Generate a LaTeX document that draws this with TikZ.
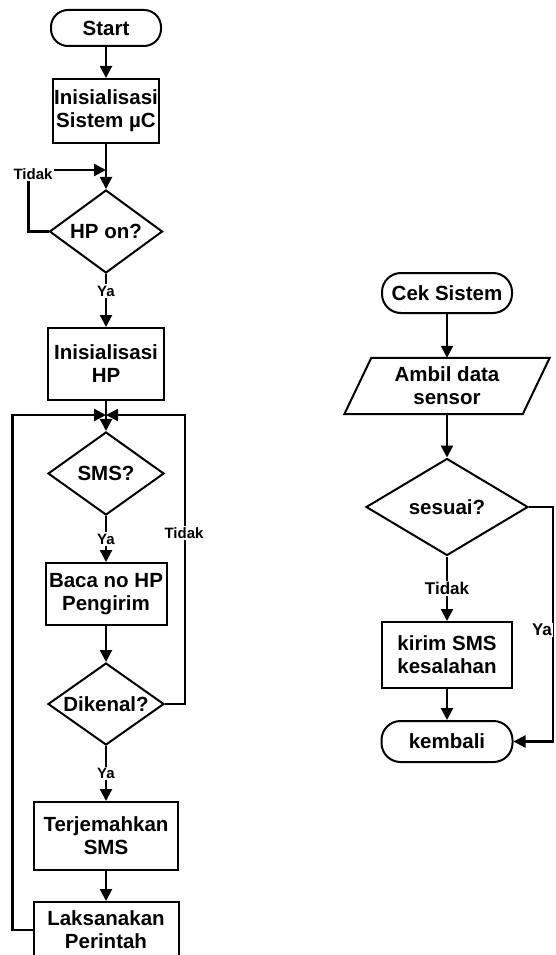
\documentclass[tikz,border=0pt]{standalone}
\usepackage{fontspec}
\setmainfont{Liberation Sans}
\usetikzlibrary{shapes.geometric,arrows.meta}
\begin{document}
\begin{tikzpicture}[x=1pt,y=-1pt,
  every node/.style={font=\fontsize{20.5}{23}\selectfont\bfseries, align=center, inner sep=1pt},
  box/.style={draw, line width=2pt, rectangle},
  term/.style={draw, line width=2pt, rectangle, rounded corners=17pt},
  dec/.style={draw, line width=2pt, diamond, shape aspect=1.4, inner sep=0pt},
  arr/.style={line width=2.2pt, -{Triangle[length=12pt,width=12pt]}},
  lbl/.style={font=\fontsize{15}{17}\selectfont\bfseries, fill=white, inner sep=1.5pt},
  lblb/.style={font=\fontsize{17}{19}\selectfont\bfseries, fill=white, inner sep=1.5pt}]
\useasboundingbox (0,0) rectangle (555,955);
\clip (0,0) rectangle (555,955);
% left column
\node[term, minimum width=110pt, minimum height=36pt] (start) at (106,28) {Start};
\node[box, minimum width=106pt, minimum height=64pt] (init1) at (106,111) {Inisialisasi\\Sistem µC};
\node[dec, minimum width=113pt, minimum height=83pt] (hp) at (106,231.5) {HP on?};
\node[box, minimum width=116pt, minimum height=72pt] (inithp) at (106,364) {Inisialisasi\\HP};
\node[dec, minimum width=116pt, minimum height=83pt] (sms) at (106,473.5) {SMS?};
\node[box, minimum width=121pt, minimum height=62pt] (baca) at (106,594) {Baca no HP\\Pengirim};
\node[dec, minimum width=116pt, minimum height=82pt] (dik) at (106,704) {Dikenal?};
\node[box, minimum width=144pt, minimum height=68pt] (terj) at (106,836) {Terjemahkan\\SMS};
\node[box, minimum width=145pt, minimum height=56pt] (laks) at (106,930) {Laksanakan\\Perintah};
\coordinate (j1) at (106,170);
\coordinate (j2) at (106,415);
\draw[arr] (start) -- (init1);
\draw[arr] (init1) -- (hp);
\draw[arr] (hp.west) -- ++(-20,0) |- (j1);
\node[lbl] (t1) at (33,174) {Tidak};
\draw[arr] (hp) -- node[lbl, pos=0.32] {Ya} (inithp);
\draw[arr] (inithp) -- (sms);
\draw[arr] (laks.west) -- ++(-20,0) |- (j2);
\draw[arr] (dik.east) -- ++(20,0) |- (j2);
\node[lbl] (t2) at (184,533) {Tidak};
\draw[arr] (sms) -- node[lbl] {Ya} (baca);
\draw[arr] (baca) -- (dik);
\draw[arr] (dik) -- node[lbl] {Ya} (terj);
\draw[arr] (terj) -- (laks);
% right column
\node[term, minimum width=130pt, minimum height=40pt, rounded corners=19pt] (cek) at (447,293) {Cek Sistem};
\node[minimum width=178pt, minimum height=56pt] (ambil) at (447,386) {Ambil data\\sensor};
\draw[line width=2pt] ([xshift=13.5pt]ambil.north west) -- ([xshift=13.5pt]ambil.north east) -- ([xshift=-13.5pt]ambil.south east) -- ([xshift=-13.5pt]ambil.south west) -- cycle;
\node[dec, minimum width=162pt, minimum height=97pt] (ses) at (447,507) {sesuai?};
\node[box, minimum width=130pt, minimum height=66pt] (kirim) at (447,655) {kirim SMS\\kesalahan};
\node[term, minimum width=131pt, minimum height=41pt, rounded corners=19pt] (kem) at (447,741.5) {kembali};
\draw[arr] (cek) -- (ambil);
\draw[arr] (ambil) -- (ses);
\draw[arr] (ses) -- node[lblb] {Tidak} (kirim);
\draw[arr] (kirim) -- (kem);
\draw[arr] (ses.east) -- ++(24,0) |- (kem.east);
\node[lblb, inner sep=1pt] (ya2) at (542,630) {Ya};
\end{tikzpicture}
\end{document}
